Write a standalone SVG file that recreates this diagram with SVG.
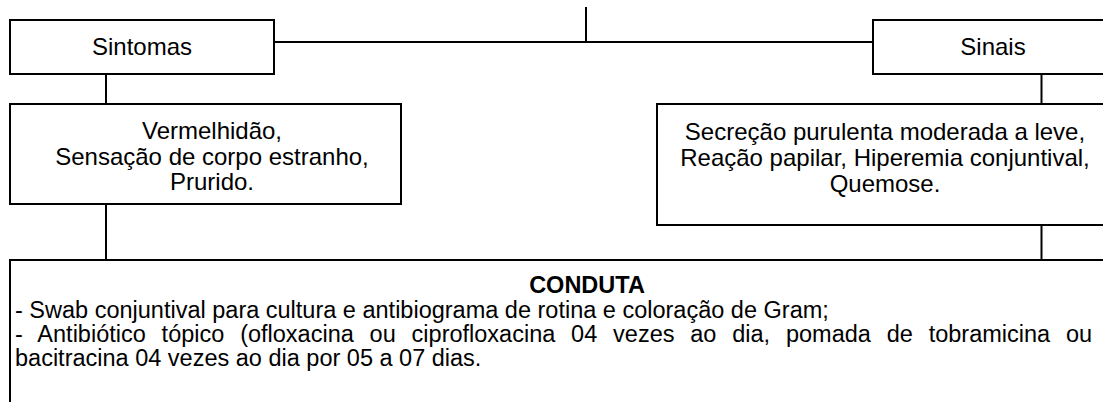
<svg xmlns="http://www.w3.org/2000/svg" width="1103" height="402" viewBox="0 0 1103 402">
<style>
.box{fill:#fff;stroke:#000;stroke-width:2}
.ln{stroke:#000;stroke-width:2;fill:none}
.t{font-family:"Liberation Sans",Arial,sans-serif;font-size:24px;fill:#000}
.s{font-size:23.5px}
.c{text-anchor:middle}
.b{font-weight:bold}
</style>
<rect width="1103" height="402" fill="#fff"/>
<g id="connectors">
<line class="ln" x1="586" y1="7" x2="586" y2="42"/>
<line class="ln" x1="274" y1="42" x2="873" y2="42"/>
<line class="ln" x1="106" y1="74" x2="106" y2="104"/>
<line class="ln" x1="106" y1="204" x2="106" y2="260"/>
<line class="ln" x1="1041.5" y1="74" x2="1041.5" y2="104"/>
<line class="ln" x1="1041.5" y1="225" x2="1041.5" y2="260"/>
</g>
<g id="sintomas">
<rect class="box" x="10" y="20" width="264" height="54"/>
<text class="t c" x="142" y="55">Sintomas</text>
</g>
<g id="sinais">
<rect class="box" x="873" y="20" width="240" height="54"/>
<text class="t c" x="993" y="55">Sinais</text>
</g>
<g id="sintomas-lista">
<rect class="box" x="10" y="104" width="391" height="100"/>
<text class="t c" x="212" y="139">Vermelhidão,</text>
<text class="t c" x="212" y="164.5">Sensação de corpo estranho,</text>
<text class="t c" x="212" y="190">Prurido.</text>
</g>
<g id="sinais-lista">
<rect class="box" x="657" y="104" width="456" height="121"/>
<text class="t c" x="885" y="140">Secreção purulenta moderada a leve,</text>
<text class="t c" x="885" y="166">Reação papilar, Hiperemia conjuntival,</text>
<text class="t c" x="885" y="192">Quemose.</text>
</g>
<g id="conduta">
<rect class="box" x="10" y="260" width="1110" height="160"/>
<text class="t s c b" x="587" y="293">CONDUTA</text>
<text class="t s" x="15" y="318">- Swab conjuntival para cultura e antibiograma de rotina e coloração de Gram;</text>
<text class="t s" x="15" y="342" word-spacing="9.3">- Antibiótico tópico (ofloxacina ou ciprofloxacina 04 vezes ao dia, pomada de tobramicina ou</text>
<text class="t s" x="15" y="366">bacitracina 04 vezes ao dia por 05 a 07 dias.</text>
</g>
</svg>
